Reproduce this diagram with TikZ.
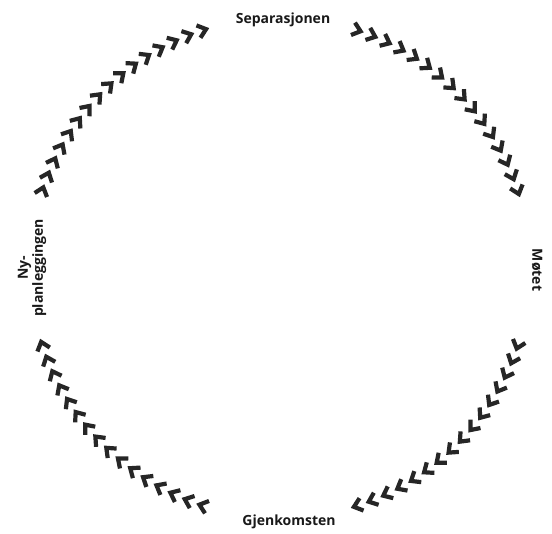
\documentclass[tikz,border=0pt]{standalone}
\usepackage{fontspec}
\setmainfont{Open Sans}
\begin{document}
\begin{tikzpicture}[x=1pt,y=1pt,
  chev/.style={line width=4.2pt, line join=miter, draw=black!85},
  lab/.style={font=\bfseries\fontsize{14}{15}\selectfont, inner sep=0pt, text=black!90}]
\useasboundingbox (0,0) rectangle (552,534);
\coordinate (c) at (280,266);
\foreach \s in {72,-18,-108,162}{
  \foreach \i in {0,...,15}{
    \pgfmathsetmacro\a{\s-\i*54/15}
    \draw[chev, shift={(c)}, shift={(\a:250)}, rotate=\a-90] (-4.5,6.5) -- (3.5,0) -- (-4.5,-6.5);
  }
}
\node[lab] (sep) at (283,514) {Separasjonen};
\node[lab, rotate=-90] (mot) at (537,264) {Møtet};
\node[lab] (gjen) at (289,12) {Gjenkomsten};
\node[lab, rotate=90, align=center] (ny) at (32,266) {Ny-\\planleggingen};
\end{tikzpicture}
\end{document}
